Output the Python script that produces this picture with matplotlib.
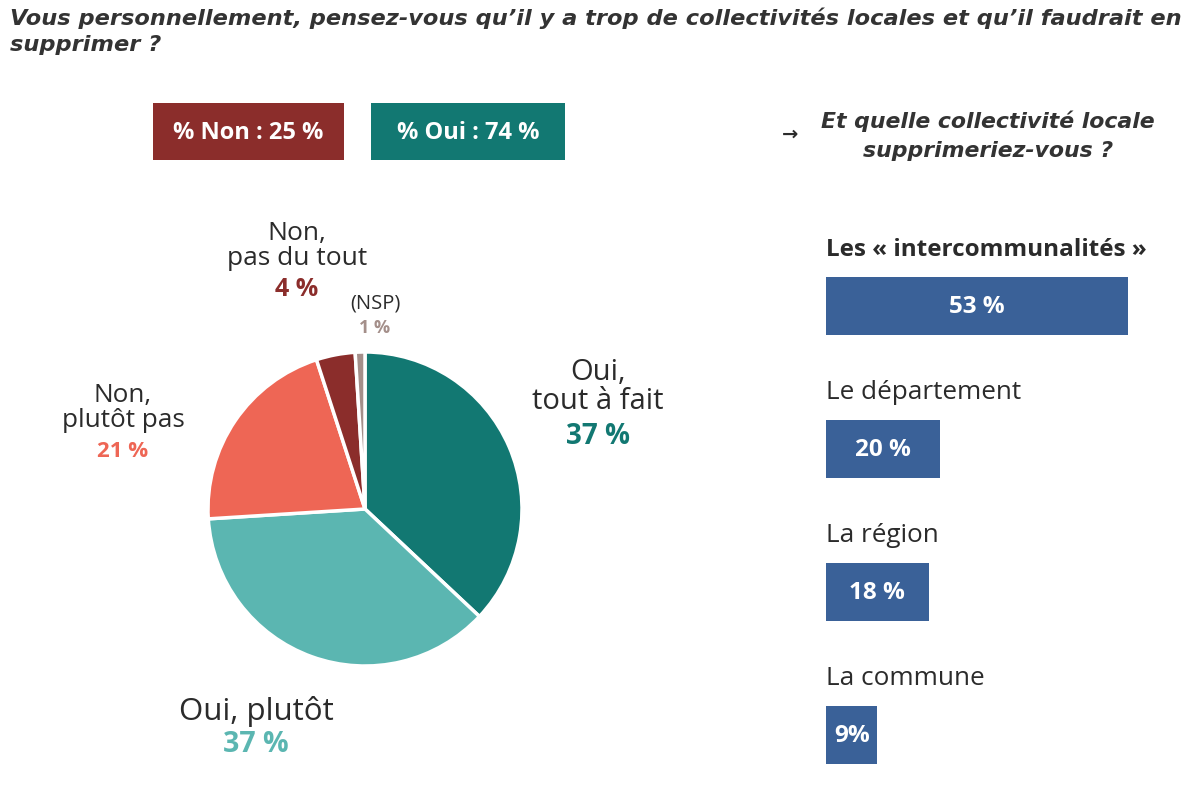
import matplotlib
matplotlib.use("Agg")
import matplotlib.pyplot as plt
from matplotlib.patches import Rectangle

# pie data
pie_labels = ["Oui,\ntout à fait", "Oui, plutôt", "Non,\nplutôt pas", "Non,\npas du tout", "(NSP)"]
pie_values = [37, 37, 21, 4, 1]
pie_colors = ["#127872", "#5bb6b1", "#ee6655", "#8b2d2b", "#a48f8a"]

# summary boxes
box_texts = ["% Non : 25 %", "% Oui : 74 %"]
box_colors = ["#8b2d2b", "#127872"]

# bar data
bar_labels = ["Les « intercommunalités »", "Le département", "La région", "La commune"]
bar_values = [53, 20, 18, 9]
bar_texts = ["53 %", "20 %", "18 %", "9%"]
bar_color = "#3a6198"

W, H = 1200, 803
fig = plt.figure(figsize=(12, 8.03), dpi=100)
fig.patch.set_facecolor("white")

BODY = "Open Sans"
dark = "#2b2b2b"


def fx(x):
    return x / W


def fy(y):
    return 1 - y / H


# title
fig.text(fx(10), fy(18), "Vous personnellement, pensez-vous qu’il y a trop de collectivités locales et qu’il faudrait en",
         fontsize=16.2, fontweight="bold", style="italic", color="#333333", va="center", ha="left",
         family="DejaVu Sans")
fig.text(fx(10), fy(45), "supprimer ?", fontsize=16.2, fontweight="bold", style="italic", color="#333333",
         va="center", ha="left", family="DejaVu Sans")

# boxes
box_pos = [(153, 344), (371, 565)]
for (x0, x1), t, c in zip(box_pos, box_texts, box_colors):
    fig.patches.append(Rectangle((fx(x0), fy(161)), fx(x1 - x0), (161 - 104) / H,
                                 transform=fig.transFigure, facecolor=c, edgecolor="none"))
    fig.text(fx((x0 + x1) / 2), fy(133), t, color="white", fontsize=17, fontweight="bold",
             ha="center", va="center", family=BODY)

# right title
fig.text(fx(790), fy(134), "→", fontsize=14, fontweight="bold", color=dark, ha="center", va="center",
         family="DejaVu Sans")
fig.text(fx(988), fy(136), "Et quelle collectivité locale\nsupprimeriez-vous ?", fontsize=15.8,
         fontweight="bold", style="italic", color="#333333", ha="center", va="center",
         linespacing=1.55, family="DejaVu Sans")

# pie
r = 157
cx, cy = 365, 510
ax = fig.add_axes([fx(cx - r), fy(cy + r), 2 * r / W, 2 * r / H])
ax.pie(pie_values, colors=pie_colors, startangle=90, counterclock=False,
       wedgeprops=dict(edgecolor="white", linewidth=2.5))
ax.set_xlim(-1, 1)
ax.set_ylim(-1, 1)
ax.set_aspect("auto")
ax.axis("off")

# pie labels: (x, label y, label size, value y, value size)
lab_pos = [(598, 387, 21, 437, 20), (256, 712, 22.5, 745, 20.5), (123, 408, 18.8, 452, 16),
           (297, 246, 19, 290, 18), (375, 304, 14.5, 328, 13)]
for i, (x, y, fs, vy, vfs) in enumerate(lab_pos):
    fig.text(fx(x), fy(y), pie_labels[i], fontsize=fs, color=dark, ha="center", va="center",
             linespacing=1.0, family=BODY, fontweight="medium" if i < 2 else "normal")
    fig.text(fx(x), fy(vy), f"{pie_values[i]} %", fontsize=vfs, color=pie_colors[i],
             ha="center", va="center", fontweight="bold", family=BODY)

# bars
px_per_unit = 143
y0_px = 307
top_u, bot_u = -0.8, 3.3
axb = fig.add_axes([fx(826), fy(y0_px + bot_u * px_per_unit), 302 / W,
                    (bot_u - top_u) * px_per_unit / H])
ypos = list(range(len(bar_values)))
axb.barh(ypos, bar_values, height=58 / px_per_unit, color=bar_color)
axb.set_xlim(0, 53)
axb.set_ylim(bot_u, top_u)
axb.axis("off")
for i, (lab, v, t) in enumerate(zip(bar_labels, bar_values, bar_texts)):
    axb.text(0, i - 0.4, lab, fontsize=17.5 if i == 0 else 18.8, color=dark, ha="left", va="center",
             family=BODY, fontweight="bold" if i == 0 else "normal", clip_on=False)
    axb.text(v / 2, i, t, fontsize=17.5, color="white", ha="center", va="center",
             fontweight="bold", family=BODY)

fig.savefig("out.png", dpi=100, facecolor="white")
